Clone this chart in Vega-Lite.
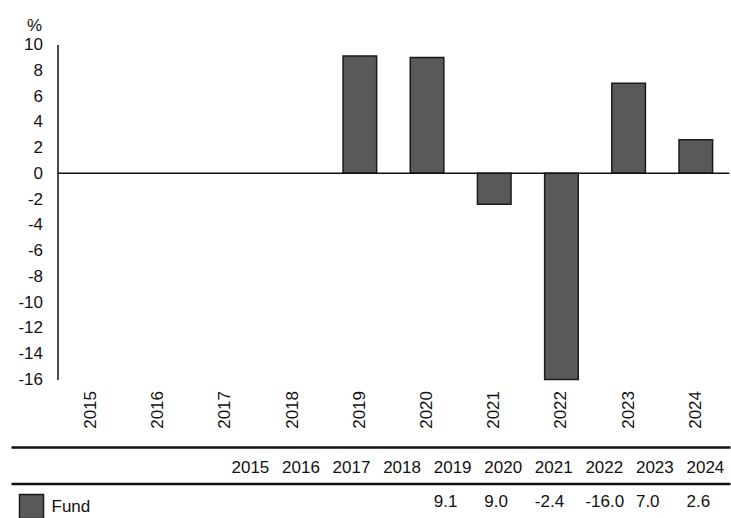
{
  "$schema": "https://vega.github.io/schema/vega-lite/v6.json",
  "padding": {"left": 9.5, "top": 16.5, "right": 0, "bottom": 0},
  "autosize": {"type": "pad"},
  "spacing": 17,
  "datasets": {
    "fund": [
      {"year": "2015", "series": "Fund", "value": null},
      {"year": "2016", "series": "Fund", "value": null},
      {"year": "2017", "series": "Fund", "value": null},
      {"year": "2018", "series": "Fund", "value": null},
      {"year": "2019", "series": "Fund", "value": 9.1},
      {"year": "2020", "series": "Fund", "value": 9.0},
      {"year": "2021", "series": "Fund", "value": -2.4},
      {"year": "2022", "series": "Fund", "value": -16.0},
      {"year": "2023", "series": "Fund", "value": 7.0},
      {"year": "2024", "series": "Fund", "value": 2.6}
    ]
  },
  "vconcat": [
    {
      "width": 718,
      "height": 335,
      "layer": [
        {
          "data": {"name": "fund"},
          "mark": {"type": "bar", "stroke": "#1a1a1a", "strokeWidth": 1.5},
          "encoding": {
            "x": {
              "field": "year", "type": "ordinal",
              "scale": {"domain": ["2015","2016","2017","2018","2019","2020","2021","2022","2023","2024"], "paddingInner": 0.5, "paddingOuter": 0.593, "align": 0.788},
              "axis": {"title": null, "labelAngle": 270, "labelFontSize": 17, "labelColor": "#111", "ticks": false, "domain": false, "labelPadding": 11}
            },
            "y": {
              "field": "value", "type": "quantitative",
              "scale": {"domain": [-16, 10], "nice": false, "zero": false},
              "axis": {
                "offset": -46,
                "title": "%", "titleAngle": 0, "titleX": -16, "titleY": -19, "titleAlign": "right", "titleBaseline": "middle",
                "titleFontSize": 17, "titleFontWeight": "normal", "titleColor": "#111",
                "values": [-16,-14,-12,-10,-8,-6,-4,-2,0,2,4,6,8,10],
                "labelFontSize": 17, "labelColor": "#111", "labelPadding": 15, "labelOverlap": false, "labelBound": false,
                "ticks": false, "grid": false,
                "domainColor": "#111", "domainWidth": 1.5
              }
            },
            "color": {
              "field": "series", "type": "nominal",
              "scale": {"domain": ["Fund"], "range": ["#58595b"]},
              "legend": {
                "title": null, "orient": "none", "legendX": 7, "legendY": 449,
                "symbolType": "square", "symbolSize": 576, "symbolStrokeColor": "#1a1a1a", "symbolStrokeWidth": 1.5,
                "labelFontSize": 17, "labelColor": "#111", "labelOffset": 7, "padding": 0
              }
            }
          }
        },
        {
          "data": {"values": [{}]},
          "mark": {"type": "rule", "color": "#111", "strokeWidth": 1.5},
          "encoding": {
            "x": {"datum": "2015", "type": "ordinal", "bandPosition": -0.5},
            "x2": {"datum": "2024", "bandPosition": 1.5},
            "y": {
              "datum": 0, "type": "quantitative",
              "axis": {
                "offset": -46,
                "title": "%", "titleAngle": 0, "titleX": -16, "titleY": -19, "titleAlign": "right", "titleBaseline": "middle",
                "titleFontSize": 17, "titleFontWeight": "normal", "titleColor": "#111",
                "values": [-16,-14,-12,-10,-8,-6,-4,-2,0,2,4,6,8,10],
                "labelFontSize": 17, "labelColor": "#111", "labelPadding": 15, "labelOverlap": false, "labelBound": false,
                "ticks": false, "grid": false,
                "domainColor": "#111", "domainWidth": 1.5
              }
            }
          }
        }
      ]
    },
    {
      "width": 719,
      "height": 73,
      "layer": [
        {
          "data": {"values": [{"row": "header"}, {"row": "Fund"}]},
          "mark": {"type": "rule", "color": "#111", "strokeWidth": 2.5},
          "encoding": {
            "y": {
              "field": "row", "type": "nominal", "bandPosition": 0,
              "scale": {"type": "band", "domain": ["header", "Fund"], "paddingInner": 0, "paddingOuter": 0},
              "axis": null
            }
          }
        },
        {
          "data": {"name": "fund"},
          "mark": {"type": "text", "align": "left", "baseline": "middle", "fontSize": 17, "color": "#111", "dy": 2},
          "encoding": {
            "x": {"field": "year", "type": "ordinal", "scale": {"type": "point", "range": [220, 675], "padding": 0}, "axis": null},
            "y": {"datum": "header", "type": "nominal"},
            "text": {"field": "year"}
          }
        },
        {
          "data": {"name": "fund"},
          "transform": [{"filter": "isValid(datum.value)"}],
          "mark": {"type": "text", "align": "left", "baseline": "middle", "fontSize": 17, "color": "#111"},
          "encoding": {
            "x": {"field": "year", "type": "ordinal", "axis": null},
            "y": {"datum": "Fund", "type": "nominal"},
            "text": {"field": "value", "type": "quantitative", "format": ".1f"}
          }
        }
      ]
    }
  ],
  "config": {
    "view": {"stroke": null},
    "font": "Liberation Sans",
    "locale": {"number": {"decimal": ".", "thousands": ",", "grouping": [3], "currency": ["$", ""], "minus": "-"}}
  }
}
